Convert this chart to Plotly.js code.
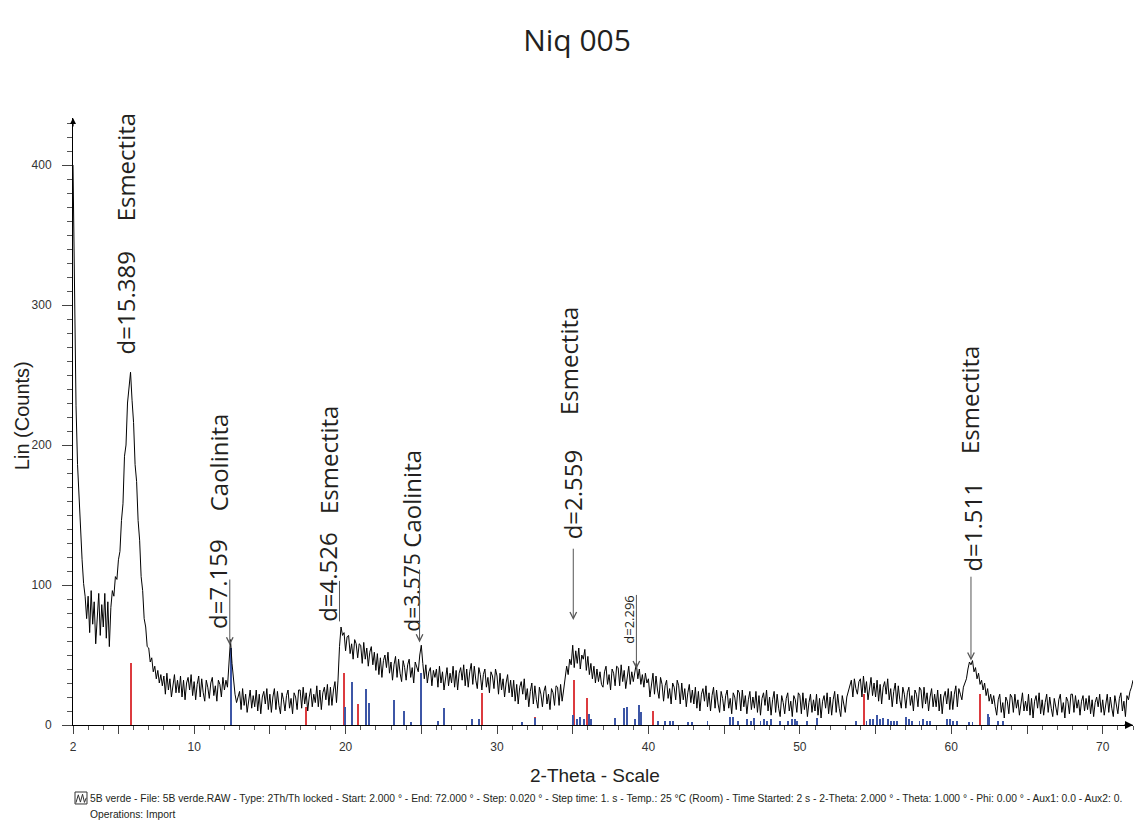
<!DOCTYPE html>
<html>
<head>
<meta charset="utf-8">
<script src="https://cdn.plot.ly/plotly-3.0.1.min.js"></script>
<style>
html,body{margin:0;padding:0;background:#fff;}
#chart{width:1137px;height:823px;}
</style>
</head>
<body>
<div id="chart"></div>
<script>
// ---- scan definition (from the footer: Start 2.000°, read every 0.1°) ----
const scanStart = 2.0;
const scanStep = 0.1;

const counts02to20 = [
  400,300,228,186,160,136,118,101,92,76,     // 2
  92,66,96,72,88,58,82,94,64,86,             // 3
  70,94,62,88,56,84,96,92,106,104,           // 4
  118,124,146,158,192,200,230,242,252,232,   // 5
  216,186,174,146,132,106,96,76,70,56,       // 6
  55,45,48,38,42,33,39,30,36,28,             // 7
  35,22,37,25,33,20,30,36,23,32,             // 8
  23,35,20,32,18,30,34,25,36,21,             // 9
  31,18,29,35,20,33,23,17,32,27,             // 10
  19,30,34,21,28,17,32,29,20,34,             // 11
  25,32,27,46,61,44,30,22,16,20,             // 12
  24,11,26,14,22,9,19,25,12,21,              // 13
  13,25,10,22,8,20,24,15,26,11,              // 14
  22,9,20,26,11,24,14,8,23,18,               // 15
  10,21,25,12,19,8,23,20,11,25,              // 16
  25,12,27,15,23,10,20,26,13,22,             // 17
  16,28,13,25,11,23,27,18,29,14,             // 18
  27,14,25,31,16,32,56,70,64,66              // 19
];
const counts20to40 = [
  53,63,64,51,58,47,61,58,48,58,             // 20
  57,44,59,47,55,42,52,56,43,52,             // 21
  39,51,36,48,34,46,50,41,52,37,             // 22
  45,32,43,49,34,47,37,31,46,41,             // 23
  32,43,47,34,41,30,45,42,38,50,             // 24
  57,44,33,43,30,38,41,28,39,34,             // 25
  40,27,42,30,38,25,35,41,28,37,             // 26
  30,42,27,39,25,37,41,32,43,28,             // 27
  40,27,38,44,29,42,32,26,41,36,             // 28
  25,36,40,27,34,23,38,35,26,40,             // 29
  35,22,37,25,33,20,30,36,23,32,             // 30
  20,32,17,29,15,27,31,22,33,18,             // 31
  26,13,24,30,15,28,18,12,27,22,             // 32
  13,24,28,15,22,11,26,23,14,28,             // 33
  27,14,29,17,25,33,42,36,47,43,             // 34
  57,41,53,44,55,40,50,47,54,39,             // 35
  49,36,44,33,42,30,40,31,38,29,             // 36
  27,38,42,29,36,25,40,37,28,42,             // 37
  41,28,43,31,39,26,36,42,29,38,             // 38
  31,38,44,33,40,29,36,27,37,30              // 39
];
const counts40to72 = [
  33,20,31,37,22,35,25,19,34,29,             // 40
  17,28,32,19,26,15,30,27,18,32,             // 41
  28,15,30,18,26,13,23,29,16,25,             // 42
  15,27,12,24,10,22,26,17,28,13,             // 43
  23,10,21,27,12,25,15,9,24,19,              // 44
  10,21,25,12,19,8,23,20,11,25,              // 45
  23,10,25,13,21,8,18,24,11,20,              // 46
  12,24,9,21,7,19,23,14,25,10,               // 47
  20,7,18,24,9,22,12,6,21,16,                // 48
  8,19,23,10,17,6,21,18,9,23,                // 49
  21,8,23,11,19,6,16,22,9,18,                // 50
  10,22,7,19,5,17,21,12,23,8,                // 51
  20,7,18,24,9,22,12,6,21,16,                // 52
  9,20,24,29,32,20,33,26,22,31,              // 53
  33,20,35,23,31,18,28,34,21,30,             // 54
  20,32,17,29,15,27,31,22,33,18,             // 55
  26,13,24,30,15,28,18,12,27,22,             // 56
  12,23,27,14,21,10,25,22,13,27,             // 57
  25,12,27,15,23,10,20,26,13,22,             // 58
  13,25,10,22,8,20,24,15,26,11,              // 59
  24,11,22,28,13,26,22,18,27,30,             // 60
  33,40,45,43,46,38,41,33,37,29,             // 61
  32,25,30,21,26,17,22,15,21,13,             // 62
  7,18,22,9,16,5,20,17,8,22,                 // 63
  20,9,22,12,18,7,15,23,10,17,               // 64
  10,22,7,19,5,17,21,12,23,8,                // 65
  18,7,16,22,9,20,12,6,19,14,                // 66
  7,18,22,9,16,5,20,17,8,22,                 // 67
  22,9,21,12,18,7,17,21,10,19,               // 68
  11,21,8,18,6,16,20,13,22,9,                // 69
  18,7,16,22,9,20,12,6,21,14,                // 70
  8,19,23,10,17,6,21,18,24,27,               // 71
  32                                         // 72.0
];

// ---- reference pattern sticks ----
const smectitePos = [5.83, 17.4, 19.9, 20.8, 29.0, 32.5, 35.1, 35.95, 40.3, 54.25, 61.9];
const smectiteInt = [44, 13, 37, 15, 23, 6, 32, 19, 10, 22, 22];
const kaolinitePos = [12.44, 19.97, 20.4, 21.35, 21.55, 23.2, 23.86, 24.3, 24.99, 26.1, 26.5, 28.35, 28.8, 31.66, 32.5,
  35.0, 35.3, 35.5, 35.75, 36.05, 36.2, 37.8, 38.4, 38.6, 39.1, 39.4, 39.5, 40.6, 41.1, 41.4, 41.6, 42.6, 42.9, 43.9,
  45.4, 45.6, 45.9, 46.5, 46.8, 47.0, 47.4, 47.6, 47.8, 48.1, 48.7, 49.2, 49.5, 49.7, 49.8, 50.5, 51.1, 53.7, 54.4,
  54.6, 54.8, 55.1, 55.3, 55.5, 55.8, 56.0, 56.2, 56.4, 57.0, 57.2, 57.4, 57.9, 58.1, 58.4, 58.6, 59.7, 59.9, 60.1,
  60.4, 61.2, 61.4, 62.4, 62.5, 63.1, 63.4];
const kaoliniteInt = [55, 13, 31, 26, 16, 18, 10, 2, 37, 3, 12, 4, 4, 2, 5,
  7, 4, 6, 4, 8, 4, 5, 12, 13, 4, 14, 9, 3, 3, 3, 3, 2, 2, 3,
  6, 6, 3, 4, 3, 5, 3, 4, 3, 4, 3, 3, 4, 4, 3, 3, 5, 3, 3,
  4, 4, 7, 4, 5, 4, 3, 3, 3, 6, 4, 3, 3, 4, 3, 3, 4, 4, 3,
  3, 2, 2, 8, 6, 3, 3];

// ---- labelled peaks ----
const peakD = [15.389, 7.159, 4.526, 3.575, 2.559, 2.296, 1.511];
const peakMineral = ['Esmectita', 'Caolinita', 'Esmectita', 'Caolinita', 'Esmectita', '', 'Esmectita'];

// ---- axis ticks ----
const xTickVals = [2, 5, 10, 15, 20, 25, 30, 35, 40, 45, 50, 55, 60, 65, 70];
const xTickText = ['2', '', '10', '', '20', '', '30', '', '40', '', '50', '', '60', '', '70'];

const footerLine1 = '5B verde - File: 5B verde.RAW - Type: 2Th/Th locked - Start: 2.000 \u00b0 - End: 72.000 \u00b0 - Step: 0.020 \u00b0 - Step time: 1. s - Temp.: 25 \u00b0C (Room) - Time Started: 2 s - 2-Theta: 2.000 \u00b0 - Theta: 1.000 \u00b0 - Phi: 0.00 \u00b0 - Aux1: 0.0 - Aux2: 0.';
const footerLine2 = 'Operations: Import';

// ---------------------------------------------------------------
const counts = counts02to20.concat(counts20to40, counts40to72);
const twoTheta = counts.map((_, i) => +(scanStart + i * scanStep).toFixed(2));
const lambda = 1.5406; // Cu K-alpha
const braggTwoTheta = d => 2 * Math.asin(lambda / (2 * d)) * 180 / Math.PI;

const SANS = '"Liberation Sans", Arial, sans-serif';
const LABEL = '"Open Sans", "Noto Sans", sans-serif';
const TXT = '#231f20';

const traces = [
  {type: 'scatter', mode: 'lines', x: twoTheta, y: counts,
   line: {color: '#000', width: 1}, hoverinfo: 'skip', showlegend: false},
  {type: 'bar', x: smectitePos, y: smectiteInt, width: 0.13,
   marker: {color: '#dc3b3f', line: {width: 0}}, showlegend: false, hoverinfo: 'skip'},
  {type: 'bar', x: kaolinitePos, y: kaoliniteInt, width: 0.13,
   marker: {color: '#3d56a6', line: {width: 0}}, showlegend: false, hoverinfo: 'skip'}
];

// label placement (text centre in 2θ, bottom of rotated text in counts, arrow span)
const placement = [
  {tx: 5.47,  dy: 264, mx: 5.43,  my: 359, font: 24, arrow: null},
  {tx: 11.58, dy: 68,  mx: 11.58, my: 152, font: 24, arrow: [105, 57], head: 5},
  {tx: 18.84, dy: 73,  mx: 18.84, my: 150, font: 24, arrow: [104, 74], head: 0},
  {tx: 24.39, dy: 66,  mx: 24.39, my: 126, font: 21, mfont: 24, arrow: [112, 59], head: 5},
  {tx: 34.96, dy: 132, mx: 34.72, my: 221, font: 24, arrow: [127, 75], head: 5},
  {tx: 38.72, dy: 57,  mx: 0,     my: 0,   font: 13, arrow: [94, 40], head: 5},
  {tx: 61.38, dy: 109, mx: 61.25, my: 193, font: 24, arrow: [107, 46], head: 5}
];

const annotations = [];
peakD.forEach((d, i) => {
  const p = placement[i];
  const peakX = braggTwoTheta(d);
  annotations.push({x: p.tx, y: p.dy, xref: 'x', yref: 'y', text: 'd=' + d.toFixed(3),
    textangle: -90, showarrow: false, xanchor: 'center', yanchor: 'bottom',
    font: {family: LABEL, size: p.font, color: TXT}, borderpad: 0});
  if (peakMineral[i]) {
    annotations.push({x: p.mx, y: p.my, xref: 'x', yref: 'y', text: peakMineral[i],
      textangle: -90, showarrow: false, xanchor: 'center', yanchor: 'bottom',
      font: {family: LABEL, size: p.mfont || p.font, color: TXT}, borderpad: 0});
  }
  if (p.arrow) {
    annotations.push({x: peakX, y: p.arrow[1], xref: 'x', yref: 'y',
      ax: peakX, ay: p.arrow[0], axref: 'x', ayref: 'y', text: '',
      showarrow: true, arrowhead: p.head, arrowsize: 1.3, arrowwidth: 1, arrowcolor: '#555'});
  }
});

// axis end arrows
annotations.push({x: 72, y: 0, xref: 'x', yref: 'y', ax: -10, ay: 0, text: '', showarrow: true,
  arrowhead: 2, arrowsize: 1, arrowwidth: 1.6, arrowcolor: '#000'});
annotations.push({x: 2, y: 433.6, xref: 'x', yref: 'y', ax: 0, ay: 10, text: '', showarrow: true,
  arrowhead: 2, arrowsize: 1, arrowwidth: 1.2, arrowcolor: '#000'});

// axis titles and footer
annotations.push({xref: 'paper', yref: 'paper', x: -0.048, y: 0.509, text: 'Lin (Counts)', textangle: -90,
  showarrow: false, xanchor: 'center', yanchor: 'middle',
  font: {family: SANS, size: 20, color: TXT}});
annotations.push({xref: 'paper', yref: 'paper', x: 0.4925, y: -0.084, text: '2-Theta - Scale',
  showarrow: false, xanchor: 'center', yanchor: 'middle',
  font: {family: SANS, size: 19, color: TXT}});
annotations.push({xref: 'paper', yref: 'paper', x: 0.0142, y: -0.1203, text: footerLine1,
  showarrow: false, xanchor: 'left', yanchor: 'middle', align: 'left',
  font: {family: SANS, size: 10.3, color: TXT}});
annotations.push({xref: 'paper', yref: 'paper', x: 0.0142, y: -0.148, text: footerLine2,
  showarrow: false, xanchor: 'left', yanchor: 'middle', align: 'left',
  font: {family: SANS, size: 10.3, color: TXT}});

const shapes = [
  {type: 'rect', xref: 'paper', yref: 'paper', x0: 0.0019, x1: 0.0132, y0: -0.1301, y1: -0.1104,
   line: {color: '#333', width: 1}, fillcolor: 'rgba(0,0,0,0)'},
  {type: 'path', xref: 'paper', yref: 'paper',
   path: 'M 0.0028 -0.1280 L 0.0050 -0.1150 L 0.0070 -0.1270 L 0.0090 -0.1140 L 0.0108 -0.1275 L 0.0125 -0.1200',
   line: {color: '#333', width: 1}}
];

const layout = {
  width: 1137, height: 823,
  margin: {l: 73, r: 4, t: 118, b: 98},
  paper_bgcolor: '#fff', plot_bgcolor: '#fff',
  barmode: 'overlay', bargap: 0,
  title: {text: 'Niq 005', x: 0.5075, xref: 'container', xanchor: 'center',
          y: 0.951, yref: 'container', yanchor: 'middle',
          font: {family: LABEL, size: 30, color: TXT}},
  xaxis: {range: [2, 72], showline: true, linecolor: '#000', linewidth: 1,
          ticks: 'outside', tickmode: 'array', tickvals: xTickVals, ticktext: xTickText,
          ticklen: 8, tickcolor: '#444', tickwidth: 1, ticklabelstandoff: 3,
          tickfont: {family: SANS, size: 12, color: '#333'},
          minor: {tickmode: 'linear', tick0: 0, dtick: 1, ticklen: 4, ticks: 'outside', tickcolor: '#555', tickwidth: 1},
          showgrid: false, zeroline: false, fixedrange: true},
  yaxis: {range: [0, 433.6], showline: true, linecolor: '#000', linewidth: 1,
          ticks: 'outside', tickmode: 'linear', tick0: 0, dtick: 100,
          ticklen: 10, tickcolor: '#444', tickwidth: 1, ticklabelstandoff: 8,
          tickfont: {family: SANS, size: 12, color: '#333'},
          minor: {tickmode: 'linear', tick0: 0, dtick: 10, ticklen: 5, ticks: 'outside', tickcolor: '#555', tickwidth: 1},
          showgrid: false, zeroline: false, fixedrange: true},
  annotations: annotations,
  shapes: shapes
};

Plotly.newPlot('chart', traces, layout, {staticPlot: true, displayModeBar: false});
</script>
</body>
</html>
